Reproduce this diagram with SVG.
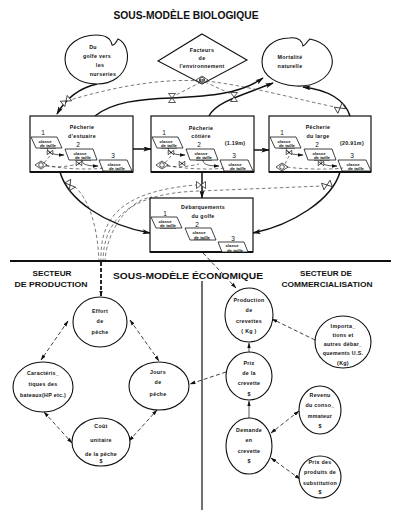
<svg xmlns="http://www.w3.org/2000/svg" width="400" height="523" viewBox="0 0 400 523">
<defs>
<style>
.t{font-family:"Liberation Sans",Arial,sans-serif;font-size:5.3px;font-weight:bold;fill:#111;text-anchor:middle;letter-spacing:0.3px}
.h{font-family:"Liberation Sans",Arial,sans-serif;font-weight:bold;fill:#111;text-anchor:middle}
.s{font-family:"Liberation Sans",Arial,sans-serif;font-size:6.5px;fill:#111;text-anchor:middle}
.c{font-family:"Liberation Sans",Arial,sans-serif;font-size:4.3px;font-weight:bold;fill:#111;text-anchor:middle}
.shape{fill:#fff;stroke:#111;stroke-width:1.1}
.box{fill:#fff;stroke:#111;stroke-width:1.2}
.par{fill:#fff;stroke:#111;stroke-width:0.8}
.flow{fill:none;stroke:#111;stroke-width:1.5}
.thin{fill:none;stroke:#111;stroke-width:0.7}
.dash{fill:none;stroke:#222;stroke-width:0.6;stroke-dasharray:3.5,2.5}
.dash2{fill:none;stroke:#111;stroke-width:0.8;stroke-dasharray:4,2.5}
.valve{fill:#fff;stroke:#111;stroke-width:0.7}
</style>
<marker id="big" viewBox="0 0 10 6" refX="9" refY="3" markerWidth="9" markerHeight="5" markerUnits="userSpaceOnUse" orient="auto"><path d="M0,0 L10,3 L0,6 L2,3 Z" fill="#111"/></marker>
<marker id="sm" viewBox="0 0 10 6" refX="9" refY="3" markerWidth="6" markerHeight="4" markerUnits="userSpaceOnUse" orient="auto-start-reverse"><path d="M0,0 L10,3 L0,6 Z" fill="#111"/></marker>
<symbol id="v" viewBox="-5 -4 10 8" width="10" height="8" overflow="visible"><path d="M-4.5,-3.5 L4.5,3.5 L4.5,-3.5 L-4.5,3.5 Z" class="valve"/></symbol>
<symbol id="sv" viewBox="-3 -2.5 6 5" width="6" height="5" overflow="visible"><path d="M-2.8,-2.2 L2.8,2.2 L2.8,-2.2 L-2.8,2.2 Z" class="valve"/><circle r="0.8" fill="#111"/></symbol>
</defs>
<rect width="400" height="523" fill="#fff"/>

<text class="h" x="186" y="19" font-size="10" textLength="145" lengthAdjust="spacingAndGlyphs">SOUS-MODÈLE BIOLOGIQUE</text>

<!-- connectors -->
<g id="connectors">
  <!-- biological flows -->
  <path class="flow" d="M97,84 C80,88 66,98 57,114" marker-end="url(#big)"/>
  <path class="flow" d="M95,116 C112,102 140,99 172,98 C210,96 240,94 263,78" marker-end="url(#big)"/>
  <path class="flow" d="M209,116 C216,102 240,96 273,83" marker-end="url(#big)"/>
  <path class="flow" d="M350,116 C345,100 328,90 303,87" marker-end="url(#big)"/>
  <path class="flow" d="M133,149 L151,149" marker-end="url(#big)"/>
  <path class="flow" d="M254,150 L269,150" marker-end="url(#big)"/>
  <path class="flow" d="M60,172 C68,200 105,225 150,233" marker-end="url(#big)"/>
  <path class="flow" d="M202,172 L202,198" marker-end="url(#big)"/>
  <path class="flow" d="M340,172 C332,200 292,225 253,233" marker-end="url(#big)"/>
  <!-- information lines from environment -->
  <path class="dash" d="M200,81 C160,78 110,88 70,100"/>
  <path class="dash" d="M201,82 L176,95"/>
  <path class="dash" d="M205,82 L231,94"/>
  <path class="dash" d="M206,81 C250,86 300,100 335,107"/>
  <!-- information lines from effort -->
  <path class="dash" d="M99,262 C98,230 90,200 75,187"/>
  <path class="dash" d="M101,262 C100,225 112,192 196,185"/>
  <path class="dash" d="M103,262 C103,228 120,193 200,191 L322,186"/>
  <path class="dash" d="M105,262 C106,232 128,200 152,197"/>
  <path class="dash2" d="M203,253 L236,288" marker-end="url(#sm)"/>
  <!-- dividers -->
  <path d="M10,261 L391,261" stroke="#111" stroke-width="2" fill="none"/>
  <path d="M202,281 L202,510" stroke="#111" stroke-width="1.2" fill="none"/>
  <path d="M101,262 L101,296" stroke="#111" stroke-width="1.8" stroke-dasharray="4,2" fill="none" marker-end="url(#sm)"/>
  <!-- production sector -->
  <path class="dash2" d="M68,321 L41,360" marker-start="url(#sm)" marker-end="url(#sm)"/>
  <path class="dash2" d="M130,320 L159,361" marker-start="url(#sm)" marker-end="url(#sm)"/>
  <path class="dash2" d="M44,412 L72,443" marker-start="url(#sm)" marker-end="url(#sm)"/>
  <path class="dash2" d="M129,441 L157,410" marker-start="url(#sm)" marker-end="url(#sm)"/>
  <path class="dash2" d="M226,372 L190,384" marker-end="url(#sm)"/>
  <!-- commercialisation sector -->
  <path class="dash2" d="M315,340 L272,319" marker-end="url(#sm)"/>
  <path class="thin" d="M249,353 L249,343" marker-end="url(#sm)"/>
  <path class="thin" d="M249,418 L249,401" marker-end="url(#sm)"/>
  <path class="dash2" d="M299,411 L271,433" marker-start="url(#sm)" marker-end="url(#sm)"/>
  <path class="dash2" d="M300,479 L271,458" marker-start="url(#sm)" marker-end="url(#sm)"/>
  <!-- valves -->
  <use href="#v" x="61" y="97" transform="rotate(-40 66 101)"/>
  <use href="#v" x="167" y="94" transform="rotate(90 172 98)"/>
  <use href="#v" x="229" y="93" transform="rotate(90 234 97)"/>
  <use href="#v" x="335" y="104" transform="rotate(-30 340 108)"/>
  <use href="#v" x="65" y="181" transform="rotate(60 70 185)"/>
  <use href="#v" x="196" y="181"/>
  <use href="#v" x="322" y="181" transform="rotate(-20 327 185)"/>
</g>

<g id="nurseries">
  <path class="shape" d="M96,35 C106,35 111,39 112,45 C115,46 116,42 118,39 C125,42 129,52 127,62 C124,76 112,84 97,84 C79,84 65,74 65,59 C65,45 79,35 96,35 Z"/>
  <text class="t" x="93" y="49">Du</text>
  <text class="t" x="97" y="58">golfe vers</text>
  <text class="t" x="100" y="67">les</text>
  <text class="t" x="103" y="76">nurseries</text>
</g>

<g id="environnement">
  <path class="shape" d="M202,34 L247,60 L202,84 L158,61 Z"/>
  <text class="t" x="202" y="52">Facteurs</text>
  <text class="t" x="202" y="60">de</text>
  <text class="t" x="202" y="68">l'environnement</text>
  <path d="M196,80 L202,76 L208,80 L202,84 Z" class="valve"/>
  <circle cx="202" cy="80" r="2.6" class="valve"/>
  <text class="c" x="202" y="81.6" font-size="3.5">EF</text>
</g>

<g id="mortalite">
  <path class="shape" d="M289,38 C297,37 302,40 303,46 C306,45 307,41 310,39 C325,42 334,53 332,65 C329,79 313,87 296,86 C277,85 262,76 262,62 C262,48 274,38 289,38 Z"/>
  <text class="t" x="290" y="59">Mortalité</text>
  <text class="t" x="290" y="68">naturelle</text>
</g>

<g id="estuaire" transform="translate(30,116)">
  <rect class="box" x="0" y="0" width="103" height="56"/>
  <path d="M0,56 L103,56" stroke="#111" stroke-width="2"/>
  <text class="t" x="52" y="13">Pêcherie</text>
  <text class="t" x="52" y="22">d'estuaire</text>
  <path class="par" d="M1,21 L27,21 L32,32 L6,32 Z"/>
  <path class="par" d="M35,33 L63,33 L67,44 L39,44 Z"/>
  <path class="par" d="M69,44 L97,44 L102,55 L73,55 Z"/>
  <text class="s" x="13" y="19">1</text><text class="s" x="48" y="31">2</text><text class="s" x="83" y="42">3</text>
  <text class="c" x="15" y="26.5">classe</text><text class="c" x="18" y="31" text-decoration="underline">de taille</text>
  <text class="c" x="50" y="38.5">classe</text><text class="c" x="53" y="43" text-decoration="underline">de taille</text>
  <text class="c" x="84" y="49.5">classe</text><text class="c" x="87" y="54" text-decoration="underline">de taille</text>
  <path class="thin" d="M17,32 C18,36 21,39 34,39" marker-end="url(#sm)"/>
  <path class="thin" d="M52,44 C52,48 56,50 68,50" marker-end="url(#sm)"/>
  <path class="dash" d="M16,49 C30,53 60,54 74,52"/>
  <path class="dash" d="M14,47 L20,40"/>
  <path class="dash" d="M16,50 C28,52 40,50 48,48"/>
  <use href="#sv" x="17" y="34"/>
  <use href="#sv" x="46" y="45"/>
  <path class="valve" d="M5,49 L11,45 L17,49 L11,53 Z"/><circle class="valve" cx="11" cy="49" r="2.3"/>
</g>

<g id="cotiere" transform="translate(151,116)">
  <rect class="box" x="0" y="0" width="103" height="56"/>
  <path d="M0,56 L103,56" stroke="#111" stroke-width="2"/>
  <text class="t" x="50" y="14">Pêcherie</text>
  <text class="t" x="50" y="22">côtière</text>
  <text class="t" x="84" y="29">(1.19m)</text>
  <path class="par" d="M1,21 L27,21 L32,32 L6,32 Z"/>
  <path class="par" d="M35,33 L63,33 L67,44 L39,44 Z"/>
  <path class="par" d="M69,44 L97,44 L102,55 L73,55 Z"/>
  <text class="s" x="13" y="19">1</text><text class="s" x="48" y="31">2</text><text class="s" x="83" y="42">3</text>
  <text class="c" x="15" y="26.5">classe</text><text class="c" x="18" y="31" text-decoration="underline">de taille</text>
  <text class="c" x="50" y="38.5">classe</text><text class="c" x="53" y="43" text-decoration="underline">de taille</text>
  <text class="c" x="84" y="49.5">classe</text><text class="c" x="87" y="54" text-decoration="underline">de taille</text>
  <path class="thin" d="M17,32 C18,36 21,39 34,39" marker-end="url(#sm)"/>
  <path class="thin" d="M52,44 C52,48 56,50 68,50" marker-end="url(#sm)"/>
  <path class="dash" d="M16,49 C30,53 60,54 74,52"/>
  <path class="dash" d="M14,47 L20,40"/>
  <path class="dash" d="M16,50 C28,52 40,50 48,48"/>
  <use href="#sv" x="17" y="34"/>
  <use href="#sv" x="28" y="45"/>
  <path class="valve" d="M5,49 L11,45 L17,49 L11,53 Z"/><circle class="valve" cx="11" cy="49" r="2.3"/>
</g>

<g id="large" transform="translate(269,116)">
  <rect class="box" x="0" y="0" width="102" height="56"/>
  <path d="M0,56 L102,56" stroke="#111" stroke-width="2"/>
  <text class="t" x="49" y="13">Pêcherie</text>
  <text class="t" x="49" y="22">du large</text>
  <text class="t" x="83" y="29">(20.91m)</text>
  <path class="par" d="M1,21 L27,21 L32,32 L6,32 Z"/>
  <path class="par" d="M35,33 L63,33 L67,44 L39,44 Z"/>
  <path class="par" d="M69,44 L97,44 L102,55 L73,55 Z"/>
  <text class="s" x="13" y="19">1</text><text class="s" x="48" y="31">2</text><text class="s" x="83" y="42">3</text>
  <text class="c" x="15" y="26.5">classe</text><text class="c" x="18" y="31" text-decoration="underline">de taille</text>
  <text class="c" x="50" y="38.5">classe</text><text class="c" x="53" y="43" text-decoration="underline">de taille</text>
  <text class="c" x="84" y="49.5">classe</text><text class="c" x="87" y="54" text-decoration="underline">de taille</text>
  <path class="thin" d="M17,32 C18,36 21,39 34,39" marker-end="url(#sm)"/>
  <path class="thin" d="M52,44 C52,48 56,50 68,50" marker-end="url(#sm)"/>
  <path class="dash" d="M18,51 C30,53 60,54 74,52"/>
  <path class="dash" d="M16,48 L20,40"/>
  <use href="#sv" x="17" y="34"/>
  <use href="#sv" x="49" y="45"/>
  <path class="valve" d="M7,51 L13,47 L19,51 L13,55 Z"/><circle class="valve" cx="13" cy="51" r="2.3"/>
</g>

<g id="debarquements" transform="translate(150,198)">
  <rect class="box" x="0" y="0" width="103" height="54"/>
  <path d="M0,54 L103,54" stroke="#111" stroke-width="2"/>
  <text class="t" x="53" y="11">Débarquements</text>
  <text class="t" x="53" y="20">du golfe</text>
  <path class="par" d="M1,19 L27,19 L32,30 L6,30 Z"/>
  <path class="par" d="M35,30 L61,30 L66,42 L40,42 Z"/>
  <path class="par" d="M68,44 L94,44 L98,54 L72,54 Z"/>
  <text class="s" x="15" y="18">1</text><text class="s" x="47" y="29">2</text><text class="s" x="83" y="43">3</text>
  <text class="c" x="15" y="24.5">classe</text><text class="c" x="18" y="29" text-decoration="underline">de taille</text>
  <text class="c" x="49" y="35.5">classe</text><text class="c" x="52" y="40.5" text-decoration="underline">de taille</text>
  <text class="c" x="82" y="49">classe</text><text class="c" x="85" y="53.5" text-decoration="underline">de taille</text>
</g>

<g id="titres-eco">
  <text class="h" x="188" y="279" font-size="9.5" textLength="150" lengthAdjust="spacingAndGlyphs">SOUS-MODÈLE ÉCONOMIQUE</text>
  <text class="h" x="52" y="276" font-size="6.5" textLength="39" lengthAdjust="spacingAndGlyphs">SECTEUR</text>
  <text class="h" x="51" y="287" font-size="6.5" textLength="73" lengthAdjust="spacingAndGlyphs">DE  PRODUCTION</text>
  <text class="h" x="326" y="276" font-size="6.5" textLength="52" lengthAdjust="spacingAndGlyphs">SECTEUR DE</text>
  <text class="h" x="327" y="287" font-size="6.5" textLength="91" lengthAdjust="spacingAndGlyphs">COMMERCIALISATION</text>
</g>

<g id="effort">
  <ellipse class="shape" cx="100" cy="322" rx="27" ry="25"/>
  <text class="t" x="100" y="313">Effort</text>
  <text class="t" x="100" y="323">de</text>
  <text class="t" x="100" y="334">pêche</text>
</g>
<g id="caracteristiques">
  <ellipse class="shape" cx="43" cy="387" rx="30" ry="25"/>
  <text class="t" x="43" y="375">Caractéris_</text>
  <text class="t" x="43" y="386">tiques des</text>
  <text class="t" x="43" y="397">bateaux(HP etc.)</text>
</g>
<g id="jours">
  <ellipse class="shape" cx="159" cy="386" rx="30" ry="24"/>
  <text class="t" x="158" y="374">Jours</text>
  <text class="t" x="158" y="384">de</text>
  <text class="t" x="158" y="396">pêche</text>
</g>
<g id="cout">
  <ellipse class="shape" cx="101" cy="442" rx="29" ry="24"/>
  <text class="t" x="101" y="428">Coût</text>
  <text class="t" x="101" y="442">unitaire</text>
  <text class="t" x="101" y="456">de la pêche</text>
  <text class="t" x="101" y="463">$</text>
</g>

<g id="production">
  <ellipse class="shape" cx="249" cy="315" rx="24" ry="27"/>
  <text class="t" x="249" y="302">Production</text>
  <text class="t" x="249" y="312">de</text>
  <text class="t" x="249" y="323">crevettes</text>
  <text class="t" x="249" y="333">( Kg )</text>
</g>
<g id="importations">
  <ellipse class="shape" cx="343" cy="342" rx="28" ry="26"/>
  <text class="t" x="343" y="328">Importa_</text>
  <text class="t" x="343" y="337">tions et</text>
  <text class="t" x="343" y="346">autres débar_</text>
  <text class="t" x="343" y="355">quements U.S.</text>
  <text class="t" x="343" y="365">(Kg)</text>
</g>
<g id="prix">
  <ellipse class="shape" cx="249" cy="376" rx="23" ry="24"/>
  <text class="t" x="249" y="365">Prix</text>
  <text class="t" x="249" y="375">de la</text>
  <text class="t" x="249" y="385">crevette</text>
  <text class="t" x="249" y="396">$</text>
</g>
<g id="demande">
  <ellipse class="shape" cx="249" cy="446" rx="23" ry="28"/>
  <text class="t" x="249" y="432">Demande</text>
  <text class="t" x="249" y="442">en</text>
  <text class="t" x="249" y="453">crevette</text>
  <text class="t" x="249" y="463">$</text>
</g>
<g id="revenu">
  <ellipse class="shape" cx="320" cy="410" rx="21" ry="24"/>
  <text class="t" x="320" y="397">Revenu</text>
  <text class="t" x="320" y="407">du conso_</text>
  <text class="t" x="320" y="418">mmateur</text>
  <text class="t" x="320" y="428">$</text>
</g>
<g id="substitution">
  <ellipse class="shape" cx="320" cy="477" rx="21" ry="21"/>
  <text class="t" x="320" y="464">Prix des</text>
  <text class="t" x="320" y="474">produits de</text>
  <text class="t" x="320" y="485">substitution</text>
  <text class="t" x="320" y="494">$</text>
</g>
</svg>
